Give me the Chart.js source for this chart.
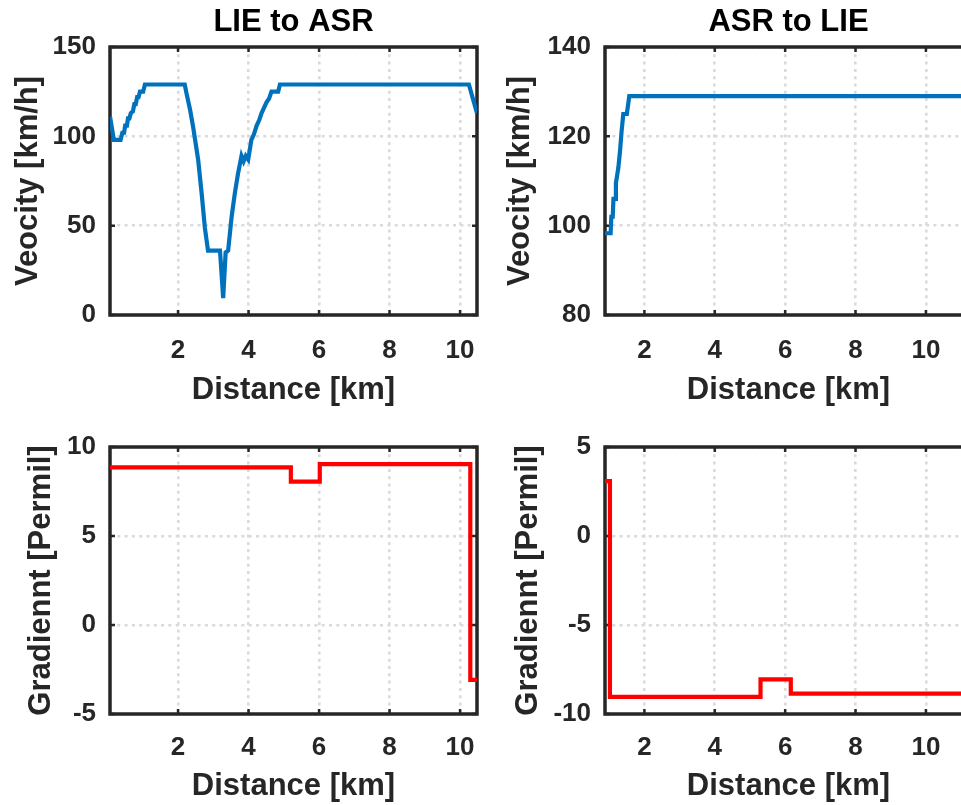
<!DOCTYPE html>
<html>
<head>
<meta charset="utf-8">
<script src="https://cdn.jsdelivr.net/npm/chart.js@4/dist/chart.umd.min.js"></script>
<style>
  html, body { margin: 0; padding: 0; background: #fff; width: 961px; height: 805px; overflow: hidden; }
  canvas { position: absolute; left: 0; top: 0; }
</style>
</head>
<body>
<canvas id="c1" width="980" height="805"></canvas>
<canvas id="c2" width="980" height="805"></canvas>
<canvas id="c3" width="980" height="805"></canvas>
<canvas id="c4" width="980" height="805"></canvas>
<script>
// ---------- data ----------
const titleLA = "LIE to ASR";
const titleAL = "ASR to LIE";
const xLabel = "Distance [km]";
const velLabel = "Veocity [km/h]";
const gradLabel = "Gradiennt [Permil]";

const xTicks = [2, 4, 6, 8, 10];
const velTicksLA = [0, 50, 100, 150];
const velTicksAL = [80, 100, 120, 140];
const gradTicksLA = [-5, 0, 5, 10];
const gradTicksAL = [-10, -5, 0, 5];

// LIE to ASR velocity
const distLA = [0.07,0.18,0.37,0.42,0.47,0.50,0.55,0.58,0.62,0.66,0.72,0.76,0.80,0.84,0.88,0.92,1.01,1.06,2.19,2.24,
                2.34,2.43,2.57,2.67,2.76,2.85,3.19,3.28,3.35,3.42,3.52,3.61,3.70,3.80,3.86,3.92,3.99,4.08,4.15,4.23,
                4.30,4.37,4.44,4.51,4.58,4.65,4.84,4.89,10.25,10.48];
const speedLA = [111,98,98,102,102,106,106,110,110,113,114,118,118,122,122,125,125,129,129,124,
                 115,105,87,68,49,36,36,9.5,35,36,55,68,79,89,86,89,87,98,101,106,
                 109,113,116,119,121,125,125,129,129,113];

// ASR to LIE velocity
const distAL = [0.88,1.04,1.06,1.10,1.12,1.17,1.19,1.26,1.31,1.35,1.40,1.50,1.57,11.31];
const speedAL = [98.3,98.3,102,102,106,106,109.5,113,117,121,125,125,129,129];

// Gradients (step profiles: value holds until the next distance)
const gradDistLA = [0.07, 5.20, 6.02, 10.29, 10.48];
const gradLA = [8.86, 8.05, 9.04, -3.08, -3.08];
const gradDistAL = [0.88, 1.02, 5.30, 6.16, 11.31];
const gradAL = [3.08, -9.04, -8.05, -8.86, -8.86];

// ---------- styling ----------
const FONT = "'Liberation Sans', Arial, Helvetica, sans-serif";
const AXC = '#262626';
const BLUE = '#0072BD';
const RED = '#FF0000';

const framePlugin = {
  id: 'frame',
  beforeDatasetsDraw(chart) {
    const {ctx, chartArea: a, scales} = chart;
    ctx.save();
    ctx.strokeStyle = AXC;
    ctx.lineWidth = 2.5;
    const tl = 5;
    scales.x.ticks.forEach(t => {
      const px = scales.x.getPixelForValue(t.value);
      ctx.beginPath();
      ctx.moveTo(px, a.bottom); ctx.lineTo(px, a.bottom - tl);
      ctx.moveTo(px, a.top); ctx.lineTo(px, a.top + tl);
      ctx.stroke();
    });
    scales.y.ticks.forEach(t => {
      const py = scales.y.getPixelForValue(t.value);
      ctx.beginPath();
      ctx.moveTo(a.left, py); ctx.lineTo(a.left + tl, py);
      ctx.moveTo(a.right, py); ctx.lineTo(a.right - tl, py);
      ctx.stroke();
    });
    ctx.lineWidth = 3.5;
    ctx.strokeRect(a.left, a.top, a.right - a.left, a.bottom - a.top);
    ctx.restore();
  }
};

function makeChart(id, cfg) {
  const xs = cfg.xs, ys = cfg.ys;
  const pts = xs.map((x, i) => ({x: x, y: ys[i]}));
  return new Chart(document.getElementById(id), {
    type: 'line',
    data: { datasets: [{
      data: pts,
      borderColor: cfg.color,
      borderWidth: 4.2,
      pointRadius: 0,
      fill: false,
      tension: 0,
      stepped: cfg.stepped || false
    }]},
    options: {
      responsive: false,
      animation: false,
      events: [],
      layout: { padding: cfg.pad },
      plugins: {
        legend: { display: false },
        tooltip: { enabled: false },
        title: {
          display: !!cfg.title,
          text: cfg.title || '',
          fullSize: false,
          color: '#000',
          font: { family: FONT, size: 31, weight: 'bold', lineHeight: 1.2 },
          padding: { top: 4, bottom: 5.8 }
        }
      },
      scales: {
        x: {
          type: 'linear',
          min: cfg.xmin, max: cfg.xmax,
          afterBuildTicks: s => { s.ticks = xTicks.map(v => ({value: v})); },
          afterFit: s => { s.height = cfg.xh; },
          grid: { color: '#dadada', lineWidth: 2.6, drawTicks: false },
          border: { display: false, dash: [3, 4.3] },
          ticks: { color: AXC, padding: cfg.xtp, maxRotation: 0, autoSkip: false,
                   font: { family: FONT, size: 26, weight: 'bold', lineHeight: 1.2 } },
          title: { display: true, text: xLabel, color: AXC,
                   font: { family: FONT, size: 31, weight: 'bold', lineHeight: 1.2 },
                   padding: { top: 0, bottom: cfg.xtitlePad } }
        },
        y: {
          type: 'linear',
          min: cfg.ymin, max: cfg.ymax,
          afterBuildTicks: s => { s.ticks = cfg.yTicks.map(v => ({value: v})); },
          afterFit: s => { s.width = 110; },
          grid: { color: '#dadada', lineWidth: 2.6, drawTicks: false },
          border: { display: false, dash: [3, 4.3] },
          ticks: { color: AXC, padding: 14, autoSkip: false,
                   font: { family: FONT, size: 26, weight: 'bold', lineHeight: 1.2 } },
          title: { display: true, text: cfg.ylabel, color: AXC,
                   font: { family: FONT, size: 31, weight: 'bold', lineHeight: 1.2 },
                   padding: { top: cfg.ytitlePad, bottom: 0 } }
        }
      }
    },
    plugins: [framePlugin]
  });
}

makeChart('c1', {
  xs: distLA, ys: speedLA, color: BLUE, title: titleLA,
  xmin: 0.07, xmax: 10.48, ymin: 0, ymax: 150, yTicks: velTicksLA,
  ylabel: velLabel, ytitlePad: 9.4, xh: 100, xtp: 20, xtitlePad: 6.4,
  pad: { left: 0, top: 0, right: 503, bottom: 390 }
});
makeChart('c2', {
  xs: distAL, ys: speedAL, color: BLUE, title: titleAL,
  xmin: 0.88, xmax: 11.31, ymin: 80, ymax: 140, yTicks: velTicksAL,
  ylabel: velLabel, ytitlePad: 6.4, xh: 100, xtp: 20, xtitlePad: 6.4,
  pad: { left: 495, top: 0, right: 8, bottom: 390 }
});
makeChart('c3', {
  xs: gradDistLA, ys: gradLA, color: RED, stepped: 'before',
  xmin: 0.07, xmax: 10.48, ymin: -5, ymax: 10, yTicks: gradTicksLA,
  ylabel: gradLabel, ytitlePad: 23, xh: 91, xtp: 18, xtitlePad: 0,
  pad: { left: 0, top: 447, right: 503, bottom: 0 }
});
makeChart('c4', {
  xs: gradDistAL, ys: gradAL, color: RED, stepped: 'before',
  xmin: 0.88, xmax: 11.31, ymin: -10, ymax: 5, yTicks: gradTicksAL,
  ylabel: gradLabel, ytitlePad: 15, xh: 91, xtp: 18, xtitlePad: 0,
  pad: { left: 495, top: 447, right: 8, bottom: 0 }
});
</script>
</body>
</html>
